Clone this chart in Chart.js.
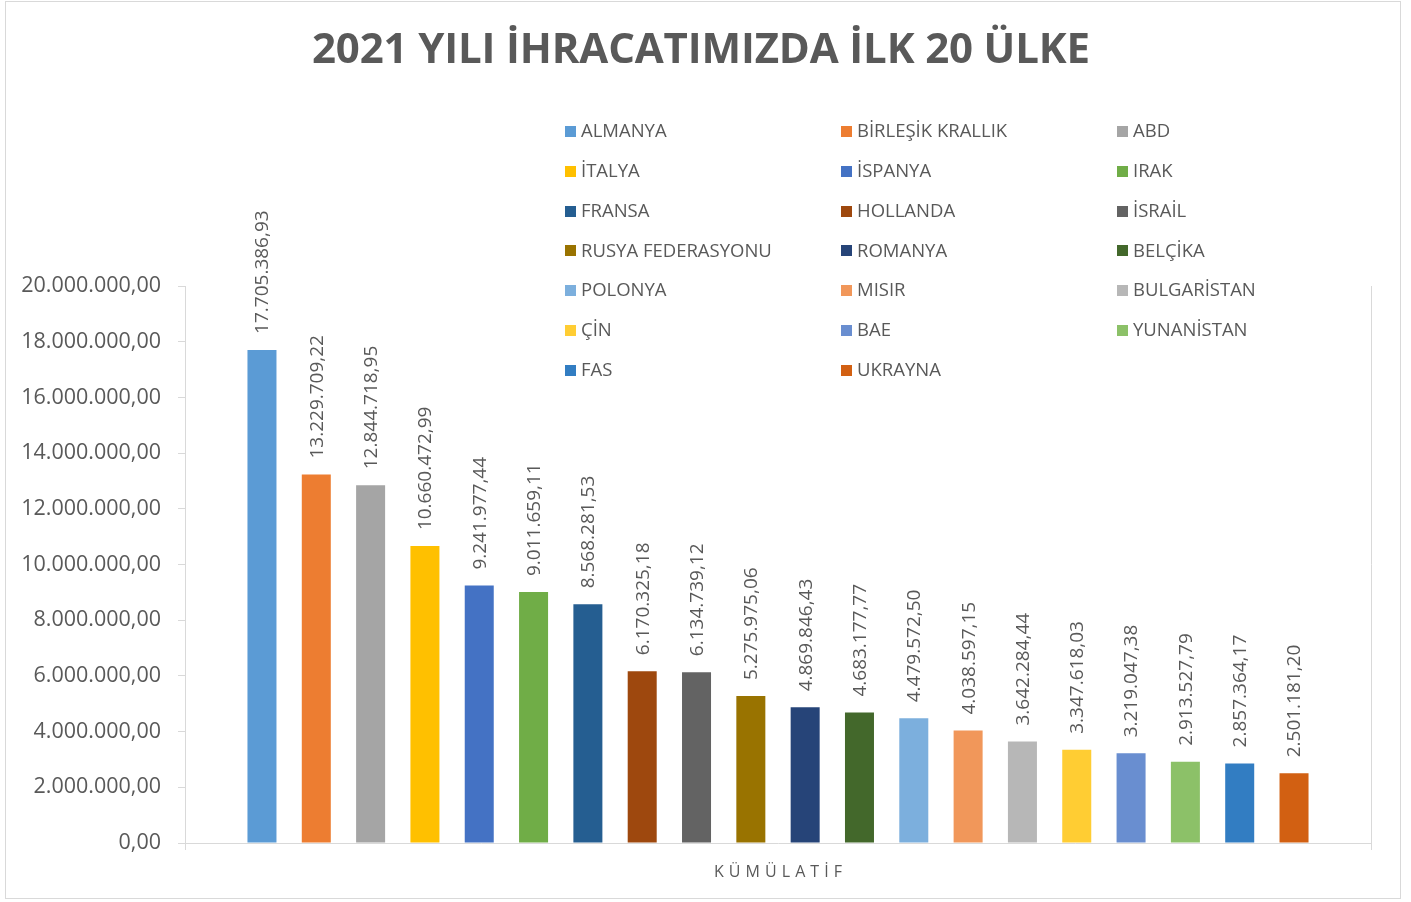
<!DOCTYPE html>
<html><head><meta charset="utf-8">
<script src="https://cdn.jsdelivr.net/npm/chart.js@4/dist/chart.umd.min.js"></script>
<style>html,body{margin:0;padding:0;background:#fff;}#wrap{width:1411px;height:902px;position:relative;}canvas{display:block;}</style>
</head><body><div id="wrap"><canvas id="c" width="1411" height="902"></canvas></div>
<script>
const categories = ["KÜMÜLATİF"];
const countries = ["ALMANYA","BİRLEŞİK KRALLIK","ABD","İTALYA","İSPANYA","IRAK","FRANSA","HOLLANDA","İSRAİL","RUSYA FEDERASYONU","ROMANYA","BELÇİKA","POLONYA","MISIR","BULGARİSTAN","ÇİN","BAE","YUNANİSTAN","FAS","UKRAYNA"];
const values = [17705386.93,13229709.22,12844718.95,10660472.99,9241977.44,9011659.11,8568281.53,6170325.18,6134739.12,5275975.06,4869846.43,4683177.77,4479572.50,4038597.15,3642284.44,3347618.03,3219047.38,2913527.79,2857364.17,2501181.20];
const colors = ["#5B9BD5","#ED7D31","#A5A5A5","#FFC000","#4472C4","#70AD47","#255E91","#9E480E","#636363","#997300","#264478","#43682B","#7CAFDD","#F1975A","#B7B7B7","#FFCD33","#698ED0","#8CC168","#327DC2","#D26012"];
const yAxisRange = [0, 20000000];
const yAxisStep = 2000000;
const titleText = "2021 YILI İHRACATIMIZDA İLK 20 ÜLKE";

const FONT = "'Open Sans', 'Liberation Sans', sans-serif";
const TXT = "#595959";

function fmtTR(v){
  const neg = v < 0; v = Math.abs(v);
  const fixed = v.toFixed(2);
  let [ip, dp] = fixed.split(".");
  ip = ip.replace(/\B(?=(\d{3})+(?!\d))/g, ".");
  return (neg?"-":"") + ip + "," + dp;
}

function drawSpaced(ctx, text, cx, baseline, targetW){
  ctx.letterSpacing = "0px";
  const w = ctx.measureText(text).width;
  const sp = (targetW - w) / (text.length - 1);
  ctx.letterSpacing = sp + "px";
  ctx.textAlign = "left";
  ctx.fillText(text, cx - targetW/2, baseline);
  ctx.letterSpacing = "0px";
}

const decor = {
  id: "decor",
  beforeDraw(chart){
    const ctx = chart.ctx;
    ctx.save();
    ctx.fillStyle = "#fff";
    ctx.fillRect(0,0,chart.width,chart.height);
    ctx.strokeStyle = "#d9d9d9";
    ctx.lineWidth = 1;
    ctx.strokeRect(5.5, 1.5, 1395, 897);
    ctx.restore();
  },
  afterDatasetsDraw(chart){
    const ctx = chart.ctx;
    ctx.save();
    ctx.font = "19px " + FONT;
    ctx.fillStyle = TXT;
    chart.data.datasets.forEach((ds, i) => {
      const meta = chart.getDatasetMeta(i);
      meta.data.forEach((el, j) => {
        ctx.save();
        ctx.translate(el.x, el.y - 16);
        ctx.rotate(-Math.PI/2);
        ctx.textAlign = "left";
        ctx.textBaseline = "middle";
        ctx.fillText(fmtTR(ds.data[j]), 0, 1);
        ctx.restore();
      });
    });
    ctx.restore();
  },
  afterDraw(chart){
    const ctx = chart.ctx;
    ctx.save();
    // title
    ctx.fillStyle = TXT;
    ctx.font = "bold 42px " + FONT;
    ctx.textBaseline = "alphabetic";
    drawSpaced(ctx, titleText, 701, 63, 778);
    // x category label
    const xs = chart.scales.x;
    ctx.font = "16px " + FONT;
    drawSpaced(ctx, categories[0], xs.getPixelForTick(0), 877, 128);
    // legend
    const colX = [565, 841, 1117];
    ctx.font = "18.5px " + FONT;
    ctx.textBaseline = "middle";
    ctx.textAlign = "left";
    chart.data.datasets.forEach((ds, i) => {
      const c = i % 3, r = Math.floor(i / 3);
      const x = colX[c], y = 131 + r * 39.8;
      ctx.fillStyle = ds.backgroundColor;
      ctx.fillRect(x, Math.round(y) - 5, 11, 11);
      ctx.fillStyle = TXT;
      ctx.fillText(ds.label, x + 16, y + 1);
    });
    ctx.restore();
  }
};

new Chart(document.getElementById("c"), {
  type: "bar",
  data: {
    labels: categories,
    datasets: countries.map((n, i) => ({
      label: n,
      data: [values[i]],
      backgroundColor: colors[i],
      barPercentage: 0.534,
      categoryPercentage: 0.916
    }))
  },
  options: {
    responsive: false,
    animation: false,
    devicePixelRatio: 1,
    layout: { padding: { top: 286, right: 40, left: 0, bottom: 0 } },
    plugins: { legend: { display: false }, title: { display: false }, tooltip: { enabled: false } },
    scales: {
      x: {
        grid: { display: true, offset: true, color: "#d9d9d9", lineWidth: 1, tickLength: 7, drawOnChartArea: true },
        border: { display: true, color: "#d9d9d9" },
        ticks: { display: false },
        afterFit(s){ s.height = 59; }
      },
      y: {
        min: yAxisRange[0], max: yAxisRange[1],
        ticks: { stepSize: yAxisStep, callback: v => fmtTR(v), font: { family: FONT, size: 21.5 }, color: TXT, padding: 17 },
        grid: { display: true, drawOnChartArea: false, tickLength: 7, color: "#d9d9d9" },
        border: { display: true, color: "#d9d9d9" },
        afterFit(s){ s.width = 185; }
      }
    }
  },
  plugins: [decor]
});
</script>
</body></html>
